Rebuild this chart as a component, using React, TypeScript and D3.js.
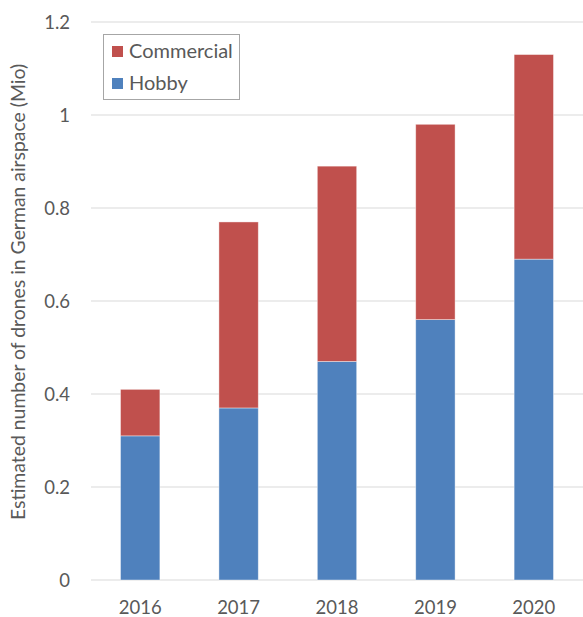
import React from "react";
import * as d3 from "d3";

const years = ["2016", "2017", "2018", "2019", "2020"];
const hobby = [0.31, 0.37, 0.47, 0.56, 0.69];
const commercial = [0.10, 0.40, 0.42, 0.42, 0.44];
const yTicks = [0, 0.2, 0.4, 0.6, 0.8, 1, 1.2];
const seriesNames = ["Commercial", "Hobby"];
const colors = { Hobby: "#4F81BD", Commercial: "#C0504D" };

const W = 583;
const H = 617;
const margin = { left: 91, right: 0, top: 22, bottom: 37 };
const FONT = "Lato, 'Open Sans', sans-serif";

export default function App() {
  const x = d3
    .scaleBand()
    .domain(years)
    .range([margin.left, W - margin.right])
    .paddingInner(0.6)
    .paddingOuter(0.3);
  const y = d3
    .scaleLinear()
    .domain([0, 1.2])
    .range([H - margin.bottom, margin.top]);

  const stackData = years.map((yr, i) => ({ year: yr, Hobby: hobby[i], Commercial: commercial[i] }));
  const stack = d3.stack<any>().keys(["Hobby", "Commercial"])(stackData);

  return (
    <div style={{ position: "absolute", left: 0, top: 0 }}>
      <svg width={W} height={H} style={{ display: "block", background: "#fff" }}>
        {yTicks.map((t) => (
          <g key={t}>
            <line x1={margin.left} x2={W} y1={y(t)} y2={y(t)} stroke="#E6E6E6" strokeWidth={1.3} />
            <text
              x={70}
              y={y(t)}
              dy="0.36em"
              textAnchor="end"
              fontFamily={FONT}
              fontSize={18.5}
              fill="#595959"
            >
              {d3.format("")(Number(t.toFixed(1)))}
            </text>
          </g>
        ))}
        {stack.map((s) => (
          <g key={s.key} fill={(colors as any)[s.key]}>
            {s.map((d: any) => (
              <rect
                key={d.data.year}
                x={x(d.data.year)}
                y={y(d[1])}
                width={x.bandwidth()}
                height={y(d[0]) - y(d[1])}
                stroke="#ffffff"
                strokeOpacity={0.5}
                strokeWidth={0.8}
              />
            ))}
          </g>
        ))}
        {years.map((yr) => (
          <text
            key={yr}
            x={(x(yr) as number) + x.bandwidth() / 2}
            y={614}
            textAnchor="middle"
            fontFamily={FONT}
            fontSize={18.5}
            fill="#595959"
          >
            {yr}
          </text>
        ))}
        <text
          transform={`translate(25, 292) rotate(-90)`}
          textAnchor="middle"
          fontFamily={FONT}
          fontSize={19.4}
          fill="#595959"
        >
          Estimated number of drones in German airspace (Mio)
        </text>
        <g>
          <rect x={103.5} y={34.5} width={136} height={65} fill="#fff" stroke="#A6A6A6" strokeWidth={1} />
          {seriesNames.map((n, i) => (
            <g key={n} transform={`translate(112, ${46 + i * 32})`}>
              <rect width={11} height={11} fill={(colors as any)[n]} />
              <text x={17} y={11.5} fontFamily={FONT} fontSize={20} fill="#595959">
                {n}
              </text>
            </g>
          ))}
        </g>
      </svg>
    </div>
  );
}
